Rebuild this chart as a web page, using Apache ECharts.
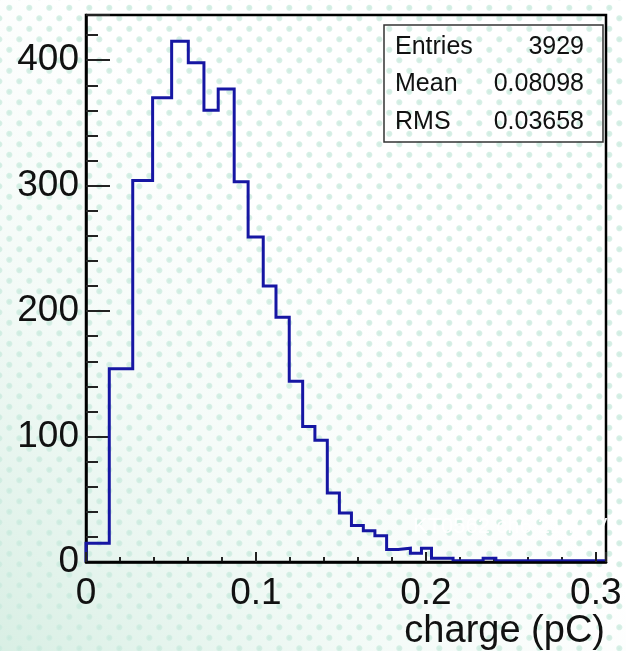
<!DOCTYPE html>
<html>
<head>
<meta charset="utf-8">
<script src="https://cdn.jsdelivr.net/npm/echarts@6/dist/echarts.min.js"></script>
<style>
  html, body { margin: 0; padding: 0; background: #fff; }
  #chart {
    width: 626px; height: 651px;
    background:
      linear-gradient(to top right, rgba(196,230,214,0.65) 0%, rgba(222,242,233,0.35) 30%, rgba(255,255,255,0) 55%),
      #fff;
  }
</style>
</head>
<body>
<div id="chart"></div>
<script>
// Histogram of the collected charge: bin edges in pC and the counts per bin
const binEdges = [
  0, 0.0137, 0.0275, 0.0392, 0.0504, 0.0602, 0.0694, 0.0778, 0.0872, 0.0954,
  0.1043, 0.1118, 0.1196, 0.1275, 0.1347, 0.1420, 0.1491, 0.1562, 0.1632, 0.1700,
  0.1769, 0.1837, 0.1909, 0.1974, 0.2033, 0.2097, 0.2160, 0.2337, 0.2412, 0.306
];
const binCounts = [
  15, 154, 304, 370, 415, 398, 360, 377, 303, 259,
  220, 195, 144, 108, 97, 55, 39, 29, 25, 21,
  10, 11, 7, 11, 3, 3, 1, 3, 1
];

// Statistics box
const statNames = ['Entries', 'Mean', 'RMS'];
const statValues = ['3929', '0.08098', '0.03658'];

const xTitle = 'charge (pC)';
const runLabel = 'KT0562 ch6 2140 V';

const FONT = 'Liberation Sans, Arial, Helvetica, sans-serif';

// Dotted backdrop tile
function dotTile() {
  const w = 20, h = 21;
  const c = document.createElement('canvas');
  c.width = w; c.height = h;
  const g = c.getContext('2d');
  const centres = [[19.3, 18.3], [9.3, 7.8]];
  for (const [cx, cy] of centres) {
    for (const dx of [-w, 0, w]) {
      for (const dy of [-h, 0, h]) {
        const x = cx + dx, y = cy + dy;
        const rg = g.createRadialGradient(x, y, 0, x, y, 3.6);
        rg.addColorStop(0, 'rgba(196,232,218,0.85)');
        rg.addColorStop(0.7, 'rgba(204,235,223,0.75)');
        rg.addColorStop(1, 'rgba(210,238,228,0)');
        g.fillStyle = rg;
        g.beginPath();
        g.arc(x, y, 3.6, 0, Math.PI * 2);
        g.fill();
      }
    }
  }
  return c;
}

// Step outline of the histogram
const outline = [[binEdges[0], 0]];
for (let i = 0; i < binCounts.length; i++) {
  outline.push([binEdges[i], binCounts[i]]);
  outline.push([binEdges[i + 1], binCounts[i]]);
}

const xMin = 0, xMax = binEdges[binEdges.length - 1];
const yMin = 0, yMax = 436;

const tickStyle = { color: '#222', width: 2 };
const labelStyle = { fontSize: 37, fontFamily: FONT, color: '#111' };

const chart = echarts.init(document.getElementById('chart'), null, { renderer: 'canvas' });

const option = {
  animation: false,
  backgroundColor: { image: dotTile(), repeat: 'repeat' },
  grid: {
    left: 86, top: 15, right: 20, bottom: 89,
    show: true, borderColor: '#000', borderWidth: 2.5,
    backgroundColor: 'transparent'
  },
  xAxis: [
    {
      type: 'value', min: xMin, max: xMax, interval: 0.1, position: 'bottom',
      axisLine: { lineStyle: { color: '#000', width: 2.5 } },
      axisTick: { inside: true, length: 10, lineStyle: tickStyle },
      axisLabel: Object.assign({
        margin: 13,
        formatter: v => {
          const k = Math.round(v * 10);
          return Math.abs(v * 10 - k) < 1e-6 ? String(k / 10) : '';
        }
      }, labelStyle),
      splitLine: { show: false },
      z: 3
    },
    {
      type: 'value', min: xMin, max: xMax, interval: 0.02, position: 'bottom',
      axisLine: { show: false },
      axisTick: { inside: true, length: 5, lineStyle: tickStyle },
      axisLabel: { show: false },
      splitLine: { show: false }
    }
  ],
  yAxis: [
    {
      type: 'value', min: yMin, max: yMax, interval: 100, position: 'left',
      axisLine: { show: true, lineStyle: { color: '#000', width: 2.5 } },
      axisTick: { show: true, inside: true, length: 24, lineStyle: tickStyle },
      axisLabel: Object.assign({
        margin: 7,
        formatter: v => (Math.abs(v % 100) < 1e-6 ? String(Math.round(v)) : '')
      }, labelStyle),
      splitLine: { show: false }
    },
    {
      type: 'value', min: yMin, max: yMax, interval: 20, position: 'left',
      axisLine: { show: false },
      axisTick: { show: true, inside: true, length: 12, lineStyle: tickStyle },
      axisLabel: { show: false },
      splitLine: { show: false }
    }
  ],
  series: [
    {
      type: 'line',
      xAxisIndex: 0, yAxisIndex: 0,
      data: outline,
      symbol: 'none',
      showSymbol: false,
      clip: true,
      lineStyle: { color: '#1616a3', width: 3, join: 'miter' },
      z: 2
    }
  ],
  graphic: [
    {
      type: 'rect',
      shape: { x: 384, y: 25, width: 219, height: 117 },
      style: { fill: 'none', stroke: '#333', lineWidth: 1.5 },
      z: 10
    },
    ...statNames.map((n, i) => ({
      type: 'text', x: 395, y: 47 + i * 37.5,
      style: { text: n, font: '25px ' + FONT, fill: '#111', align: 'left', verticalAlign: 'middle' },
      z: 10
    })),
    ...statValues.map((v, i) => ({
      type: 'text', x: 584, y: 47 + i * 37.5,
      style: { text: v, font: '25px ' + FONT, fill: '#111', align: 'right', verticalAlign: 'middle' },
      z: 10
    })),
    {
      type: 'text', x: 605, y: 632,
      style: { text: xTitle, font: '38px ' + FONT, fill: '#111', align: 'right', verticalAlign: 'middle' },
      z: 10
    },
    {
      type: 'text', x: 413, y: 527,
      style: { text: runLabel, font: '22px ' + FONT, fill: 'rgba(255,255,255,0.95)', align: 'left', verticalAlign: 'middle' },
      z: 1
    }
  ]
};

chart.setOption(option);
</script>
</body>
</html>
